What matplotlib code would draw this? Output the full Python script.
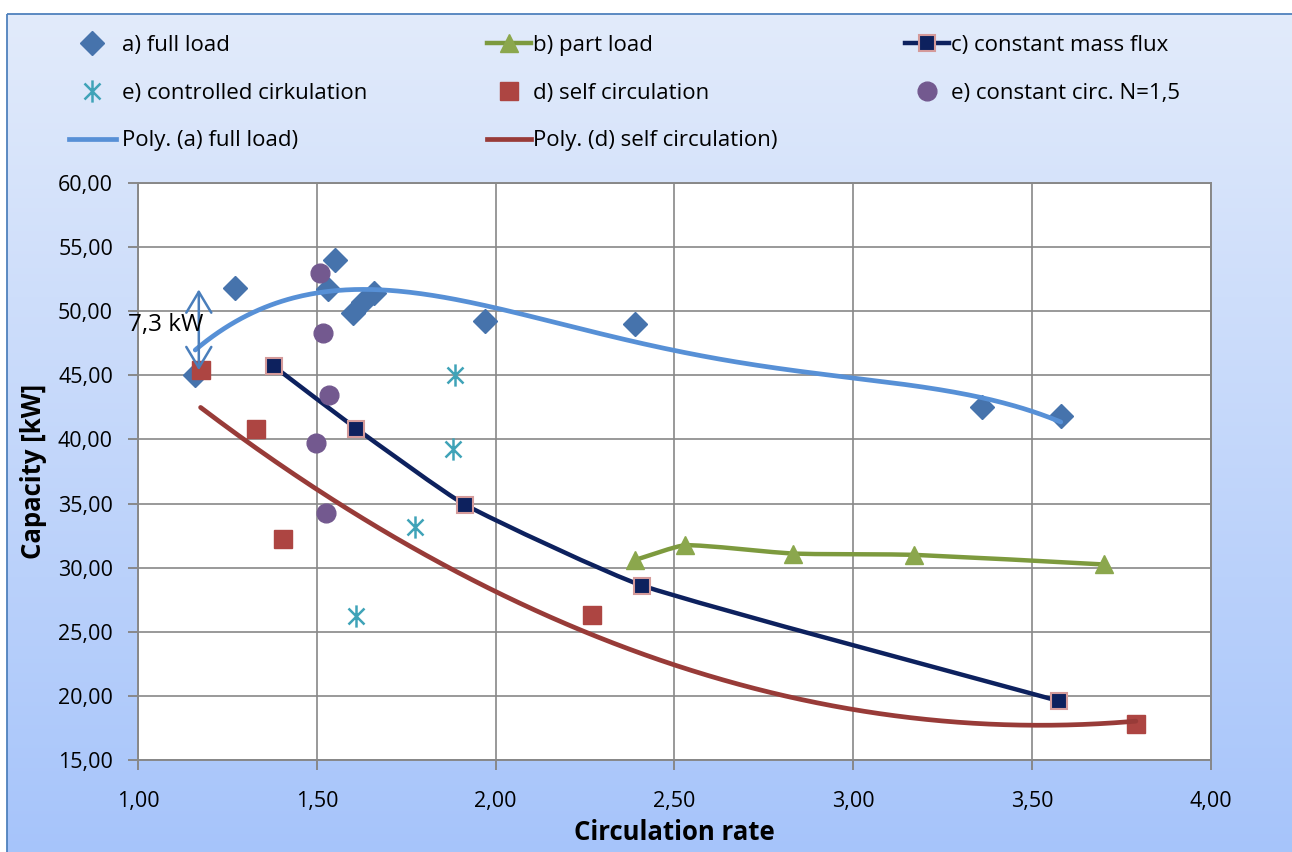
import numpy as np
import matplotlib
matplotlib.use('Agg')
import matplotlib.pyplot as plt
from matplotlib.path import Path
from matplotlib.patches import PathPatch, Rectangle
from matplotlib.lines import Line2D
from matplotlib.ticker import FuncFormatter
import matplotlib.colors as mcolors

plt.rcParams['font.family'] = ['Open Sans', 'DejaVu Sans']

# ---------------- data ----------------
full_load_x = [1.16, 1.27, 1.55, 1.53, 1.60, 1.63, 1.66, 1.97, 2.39, 3.36, 3.58]
full_load_y = [45.0, 51.8, 54.0, 51.7, 49.9, 50.7, 51.4, 49.2, 49.0, 42.5, 41.8]

part_load_x = [2.39, 2.53, 2.83, 3.17, 3.70]
part_load_y = [30.6, 31.75, 31.1, 31.0, 30.25]

mass_flux_x = [1.38, 1.61, 1.915, 2.41, 3.575]
mass_flux_y = [45.7, 40.85, 34.9, 28.6, 19.6]

ctrl_circ_x = [1.885, 1.88, 1.775, 1.61]
ctrl_circ_y = [45.0, 39.25, 33.15, 26.2]

self_circ_x = [1.175, 1.33, 1.405, 2.27, 3.79]
self_circ_y = [45.4, 40.8, 32.2, 26.3, 17.8]

const_circ_x = [1.51, 1.518, 1.534, 1.498, 1.526]
const_circ_y = [53.0, 48.3, 43.5, 39.7, 34.3]

x_ticks = [1.0, 1.5, 2.0, 2.5, 3.0, 3.5, 4.0]
y_ticks = [15, 20, 25, 30, 35, 40, 45, 50, 55, 60]

arrow_x = 1.17
arrow_y = [45.4, 51.7]
arrow_label = "7,3 kW"
arrow_label_xy = (0.972, 48.9)

labels = ["a) full load", "b) part load", "c) constant mass flux",
          "e) controlled cirkulation", "d) self circulation",
          "e) constant circ. N=1,5", "Poly. (a) full load)",
          "Poly. (d) self circulation)"]

# ---------------- colors ----------------
c_a = '#4673AC'
c_b = '#8BA74D'
c_b_line = '#7D9A3E'
c_c = '#0D215E'
c_c_edge = '#D49A9A'
c_e = '#3FA3B8'
c_d = '#AD4542'
c_f = '#73598F'
c_pa = '#5790D6'
c_pd = '#983B38'

W, H = 1292, 852
fig = plt.figure(figsize=(W / 100, H / 100), dpi=100)
fig.patch.set_facecolor('white')

# background gradient + border
bg = fig.add_axes([0, 0, 1, 1], zorder=-10)
cmap = mcolors.LinearSegmentedColormap.from_list('bg', ['#E2EBFA', '#A6C4FB'])
grad = np.linspace(0, 1, 256).reshape(-1, 1)
bg.imshow(grad, cmap=cmap, extent=(7, W + 5, H + 5, 14), aspect='auto', origin='upper')
bg.add_patch(Rectangle((7, 14), W, H, fill=False, ec='#4F81BD', lw=1.3))
bg.set_xlim(0, W)
bg.set_ylim(H, 0)
bg.axis('off')

# main axes
L, R, T, B = 138, 1211, 183, 760
ax = fig.add_axes([L / W, 1 - B / H, (R - L) / W, (B - T) / H])
ax.set_facecolor('white')
ax.set_xlim(1.0, 4.0)
ax.set_ylim(15, 60)
ax.set_xticks(x_ticks)
ax.set_yticks(y_ticks)
fmt = FuncFormatter(lambda v, p: f"{v:.2f}".replace('.', ','))
ax.xaxis.set_major_formatter(fmt)
ax.yaxis.set_major_formatter(fmt)
ax.grid(True, color='#888888', lw=1.2)
ax.set_axisbelow(True)
for s in ax.spines.values():
    s.set_color('#888888')
    s.set_linewidth(1.4)
ax.tick_params(direction='out', length=7, width=1.4, color='#888888',
               labelsize=15.5, labelcolor='black')
ax.tick_params(axis='y', pad=11)
ax.tick_params(axis='x', pad=15)

ax.set_xlabel("Circulation rate", fontsize=18.5, fontweight='bold', va='center')
ax.xaxis.set_label_coords(0.5, (B - 833) / (B - T))
ax.set_ylabel("Capacity [kW]", fontsize=18.5, fontweight='bold', va='center')
ax.yaxis.set_label_coords((34 - L) / (R - L), 0.5)


def smooth_path(xs, ys, k=0.16):
    """Smoothed line (like a spreadsheet 'smoothed line') through the points."""
    P = ax.transData.transform(np.column_stack([xs, ys]).astype(float))
    n = len(P)
    tang = []
    for i in range(n):
        a = P[max(i - 1, 0)]
        b = P[min(i + 1, n - 1)]
        d = b - a
        tang.append(d / np.hypot(*d))
    verts = [P[0]]
    codes = [Path.MOVETO]
    for i in range(n - 1):
        seg = np.hypot(*(P[i + 1] - P[i]))
        c1 = P[i] + tang[i] * seg * k
        c2 = P[i + 1] - tang[i + 1] * seg * k
        verts += [c1, c2, P[i + 1]]
        codes += [Path.CURVE4] * 3
    verts = ax.transData.inverted().transform(np.array(verts))
    return Path(verts, codes)


# asterisk marker
ast = Path([(0, -1), (0, 1), (-0.72, -0.72), (0.72, 0.72), (-0.72, 0.72), (0.72, -0.72)],
           [Path.MOVETO, Path.LINETO] * 3)

# a) full load
ax.plot(full_load_x, full_load_y, ls='none', marker='D', ms=12, color=c_a, zorder=3)
# b) part load
ax.add_patch(PathPatch(smooth_path(part_load_x, part_load_y), fill=False,
                       ec=c_b_line, lw=3.2, zorder=3, capstyle='round'))
ax.plot(part_load_x, part_load_y, ls='none', marker='^', ms=13, color=c_b, zorder=3)
# c) constant mass flux
ax.add_patch(PathPatch(smooth_path(mass_flux_x, mass_flux_y), fill=False,
                       ec=c_c, lw=3.2, zorder=3, capstyle='round'))
ax.plot(mass_flux_x, mass_flux_y, ls='none', marker='s', ms=12, mfc=c_c,
        mec=c_c_edge, mew=1.5, zorder=3)
# e) controlled
ax.plot(ctrl_circ_x, ctrl_circ_y, ls='none', marker=ast, ms=16, mec=c_e, mew=1.8,
        mfc='none', zorder=3)
# d) self circ
ax.plot(self_circ_x, self_circ_y, ls='none', marker='s', ms=13.5, color=c_d, zorder=3)
# e) constant circ
ax.plot(const_circ_x, const_circ_y, ls='none', marker='o', ms=13.5, color=c_f, zorder=3)

# polynomial trendlines
ca = np.polyfit(full_load_x, full_load_y, 4)
xa = np.linspace(min(full_load_x), max(full_load_x), 300)
ax.plot(xa, np.polyval(ca, xa), color=c_pa, lw=3.4, zorder=4, solid_capstyle='round')
cd = np.polyfit(self_circ_x, self_circ_y, 2)
xd = np.linspace(min(self_circ_x), max(self_circ_x), 300)
ax.plot(xd, np.polyval(cd, xd), color=c_pd, lw=3.4, zorder=4, solid_capstyle='round')

# annotation arrow
ax.annotate('', xy=(arrow_x, arrow_y[1]), xytext=(arrow_x, arrow_y[0]),
            arrowprops=dict(arrowstyle='<->,head_length=0.75,head_width=0.45',
                            color='#4A7EBB', lw=1.8, shrinkA=0, shrinkB=0,
                            mutation_scale=20), zorder=5)
ax.text(arrow_label_xy[0], arrow_label_xy[1], arrow_label, fontsize=17.5,
        ha='left', va='center', zorder=6)

# legends (three columns)
h_a = Line2D([], [], ls='none', marker='D', ms=12, color=c_a)
h_b = Line2D([], [], color=c_b_line, lw=3.2, marker='^', ms=13, mfc=c_b, mec=c_b)
h_c = Line2D([], [], color=c_c, lw=3.2, marker='s', ms=12, mfc=c_c, mec=c_c_edge, mew=1.5)
h_e = Line2D([], [], ls='none', marker=ast, ms=16, mec=c_e, mew=1.8, mfc='none')
h_d = Line2D([], [], ls='none', marker='s', ms=13.5, color=c_d)
h_f = Line2D([], [], ls='none', marker='o', ms=13.5, color=c_f)
h_pa = Line2D([], [], color=c_pa, lw=3.4)
h_pd = Line2D([], [], color=c_pd, lw=3.4)

cols = [([h_a, h_e, h_pa], [labels[0], labels[3], labels[6]], 69, 2.1, 0.27),
        ([h_b, h_d, h_pd], [labels[1], labels[4], labels[7]], 487, 2.0, 0.08),
        ([h_c, h_f], [labels[2], labels[5]], 905, 2.0, 0.08)]
for hs, ls_, x0, hl, htp in cols:
    fig.legend(hs, ls_, loc='upper left', bbox_to_anchor=(x0 / W, 1 - 35 / H),
               frameon=False, fontsize=16, borderpad=0, borderaxespad=0,
               handlelength=hl, handletextpad=htp, labelspacing=1.2, numpoints=1)

fig.savefig('out.png', dpi=100, facecolor='white')
